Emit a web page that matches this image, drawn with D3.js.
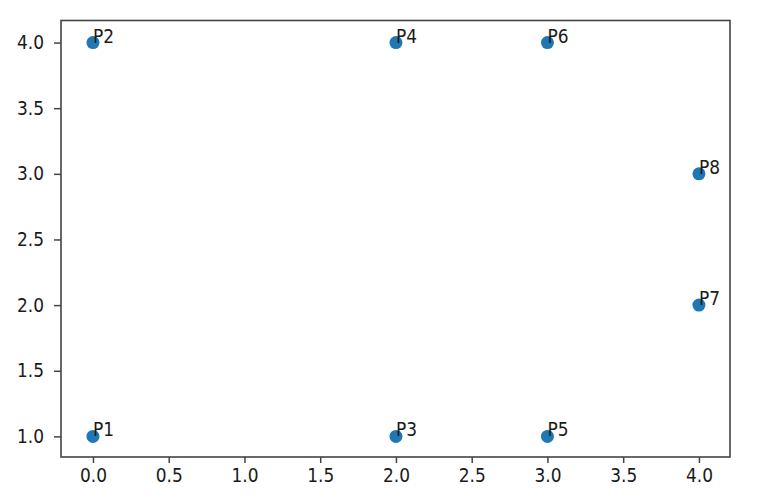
<!DOCTYPE html>
<html><head><meta charset="utf-8">
<script src="https://cdn.jsdelivr.net/npm/d3@7"></script>
<style>body{margin:0;background:#fff}</style>
</head><body>
<script>
const xs = [0, 0, 2, 2, 3, 3, 4, 4];
const ys = [1, 4, 1, 4, 1, 4, 2, 3];
const labels = ["P1","P2","P3","P4","P5","P6","P7","P8"];
const xTicks = [0.0,0.5,1.0,1.5,2.0,2.5,3.0,3.5,4.0];
const yTicks = [1.0,1.5,2.0,2.5,3.0,3.5,4.0];

const W = 776, H = 498;
const L = 61, R = 730, T = 20.5, B = 457;
const SY = 1.1;
const svg = d3.select("body").append("svg").attr("width", W).attr("height", H);
const x = d3.scaleLinear().domain([-0.211, 4.205]).range([L, R]);
const y = d3.scaleLinear().domain([0.843, 4.168]).range([B, T]);
const font = "'DejaVu Sans', sans-serif";
const ink = "#1a1a1a";
const fs = "17px";

const xa = svg.append("g").attr("transform", `translate(0,${B})`)
  .call(d3.axisBottom(x).tickValues(xTicks).tickFormat(d3.format(".1f")).tickSize(6).tickPadding(6));
const ya = svg.append("g").attr("transform", `translate(${L},0)`)
  .call(d3.axisLeft(y).tickValues(yTicks).tickFormat(d3.format(".1f")).tickSize(7).tickPadding(10));
[xa, ya].forEach(a => {
  a.select(".domain").remove();
  a.selectAll("line").attr("stroke", "#444").attr("stroke-width", 1.5);
  a.selectAll("text").attr("fill", ink).style("font-family", font).style("font-size", fs);
});
xa.selectAll("text").attr("y", 12 / SY).attr("transform", `scale(1,${SY})`);
ya.selectAll("text").attr("transform", `scale(1,${SY})`);

svg.append("rect").attr("x", L).attr("y", T).attr("width", R - L).attr("height", B - T)
  .attr("fill", "none").attr("stroke", "#444").attr("stroke-width", 1.6);

const pts = xs.map((v, i) => ({x: v, y: ys[i], l: labels[i]}));
svg.append("g").selectAll("circle").data(pts).join("circle")
  .attr("cx", d => x(d.x)).attr("cy", d => y(d.y)).attr("r", 6.5).attr("fill", "#1f77b4");
svg.append("g").selectAll("text").data(pts).join("text")
  .attr("transform", d => `translate(${x(d.x)},${y(d.y)}) scale(1,${SY})`)
  .attr("fill", ink).style("font-family", font).style("font-size", fs)
  .text(d => d.l);
</script>
</body></html>
